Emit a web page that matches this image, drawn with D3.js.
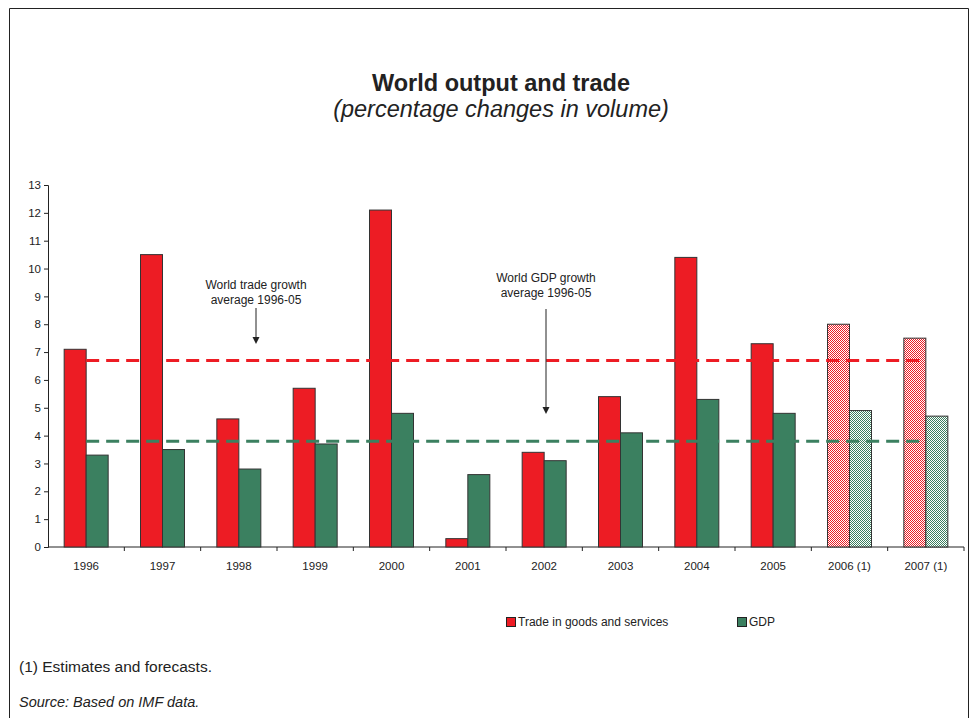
<!DOCTYPE html>
<html><head><meta charset="utf-8">
<script src="https://cdn.jsdelivr.net/npm/d3@7"></script>
<style>body{margin:0;background:#fff;}svg{font-family:"Liberation Sans",Arial,sans-serif;}</style>
</head><body>
<svg id="c" width="978" height="718"></svg>
<script>
const categories = ["1996","1997","1998","1999","2000","2001","2002","2003","2004","2005","2006 (1)","2007 (1)"];
const forecast = [false,false,false,false,false,false,false,false,false,false,true,true];
const trade = [7.1,10.5,4.6,5.7,12.1,0.3,3.4,5.4,10.4,7.3,8.0,7.5];
const gdp = [3.3,3.5,2.8,3.7,4.8,2.6,3.1,4.1,5.3,4.8,4.9,4.7];
const tradeAvg = 6.7;
const gdpAvg = 3.8;
const yTicks = [0,1,2,3,4,5,6,7,8,9,10,11,12,13];
const seriesNames = ["Trade in goods and services","GDP"];

const RED = "#ED1C24", GREEN = "#3B8060";
const svg = d3.select("#c");

const defs = svg.append("defs");
[["pr",RED],["pg",GREEN]].forEach(([id,col])=>{
  const p = defs.append("pattern").attr("id",id).attr("patternUnits","userSpaceOnUse").attr("width",2).attr("height",2);
  p.append("rect").attr("width",2).attr("height",2).attr("fill","#fff");
  p.append("rect").attr("width",1).attr("height",1).attr("fill",col);
  p.append("rect").attr("x",1).attr("y",1).attr("width",1).attr("height",1).attr("fill",col);
});

svg.append("path").attr("d","M9.5,718 V8.5 H968.5 V718").attr("fill","none").attr("stroke","#222").attr("stroke-width",1);

svg.append("text").attr("x",501).attr("y",91).attr("text-anchor","middle").attr("font-size",23.5).attr("font-weight","bold").attr("fill","#222").text("World output and trade");
svg.append("text").attr("x",501).attr("y",117).attr("text-anchor","middle").attr("font-size",23.5).attr("font-style","italic").attr("fill","#222").text("(percentage changes in volume)");

const x0 = d3.scaleBand().domain(categories).range([48,964]).paddingInner(0).paddingOuter(0);
const y = d3.scaleLinear().domain([0,13]).range([547,185]);
const bw = 22;

const g = svg.append("g");
const yAxis = d3.axisLeft(y).tickValues(yTicks).tickSize(4).tickPadding(3);
const ya = g.append("g").attr("transform","translate(48,0)").call(yAxis);
ya.selectAll("text").attr("font-size",11.5).attr("fill","#222").attr("font-family","Liberation Sans, Arial, sans-serif");
ya.select(".domain").attr("stroke","#222");
ya.selectAll(".tick line").attr("stroke","#222");

const xa = g.append("g").attr("transform","translate(0,547)");
xa.append("line").attr("x1",48).attr("x2",964).attr("stroke","#222");
categories.forEach((c,i)=>{
  const bx = x0(c)+x0.bandwidth();
  xa.append("line").attr("x1",bx).attr("x2",bx).attr("y1",0).attr("y2",4).attr("stroke","#222");
  xa.append("text").attr("x",x0(c)+x0.bandwidth()/2).attr("y",23).attr("text-anchor","middle").attr("font-size",11.5).attr("fill","#222").text(c);
});

categories.forEach((c,i)=>{
  const cx = x0(c)+x0.bandwidth()/2;
  g.append("rect").attr("x",cx-bw).attr("y",y(trade[i])).attr("width",bw).attr("height",y(0)-y(trade[i]))
    .attr("fill",forecast[i]?"url(#pr)":RED).attr("stroke","#333").attr("stroke-width",1);
  g.append("rect").attr("x",cx).attr("y",y(gdp[i])).attr("width",bw).attr("height",y(0)-y(gdp[i]))
    .attr("fill",forecast[i]?"url(#pg)":GREEN).attr("stroke","#333").attr("stroke-width",1);
});

const xs = x0(categories[0])+x0.bandwidth()/2;
const xe = x0(categories[11])+x0.bandwidth()/2;
g.append("line").attr("x1",xs).attr("x2",xe).attr("y1",y(tradeAvg)).attr("y2",y(tradeAvg)).attr("stroke",RED).attr("stroke-width",3).attr("stroke-dasharray","13,7");
g.append("line").attr("x1",xs).attr("x2",xe).attr("y1",y(gdpAvg)).attr("y2",y(gdpAvg)).attr("stroke",GREEN).attr("stroke-width",3).attr("stroke-dasharray","13,7");

function annot(cx, t1, t2, ty, ay1, ay2){
  svg.append("text").attr("x",cx).attr("y",ty).attr("text-anchor","middle").attr("font-size",12).attr("fill","#222").text(t1);
  svg.append("text").attr("x",cx).attr("y",ty+15).attr("text-anchor","middle").attr("font-size",12).attr("fill","#222").text(t2);
  svg.append("line").attr("x1",cx).attr("x2",cx).attr("y1",ay1).attr("y2",ay2-6).attr("stroke","#222").attr("stroke-width",1);
  svg.append("path").attr("d",`M${cx-3.5},${ay2-7} L${cx+3.5},${ay2-7} L${cx},${ay2} Z`).attr("fill","#222");
}
annot(256,"World trade growth","average 1996-05",289,308,344);
annot(546,"World GDP growth","average 1996-05",282,309,414);

svg.append("rect").attr("x",506.5).attr("y",617.5).attr("width",9).attr("height",9).attr("fill",RED).attr("stroke","#222");
svg.append("text").attr("x",518).attr("y",626).attr("font-size",12).attr("fill","#222").text(seriesNames[0]);
svg.append("rect").attr("x",737.5).attr("y",617.5).attr("width",9).attr("height",9).attr("fill",GREEN).attr("stroke","#222");
svg.append("text").attr("x",749).attr("y",626).attr("font-size",12).attr("fill","#222").text(seriesNames[1]);

svg.append("text").attr("x",19).attr("y",672).attr("font-size",15.5).attr("fill","#222").text("(1) Estimates and forecasts.");
svg.append("text").attr("x",19).attr("y",707).attr("font-size",14.5).attr("font-style","italic").attr("fill","#222").text("Source: Based on IMF data.");
</script>
</body></html>
